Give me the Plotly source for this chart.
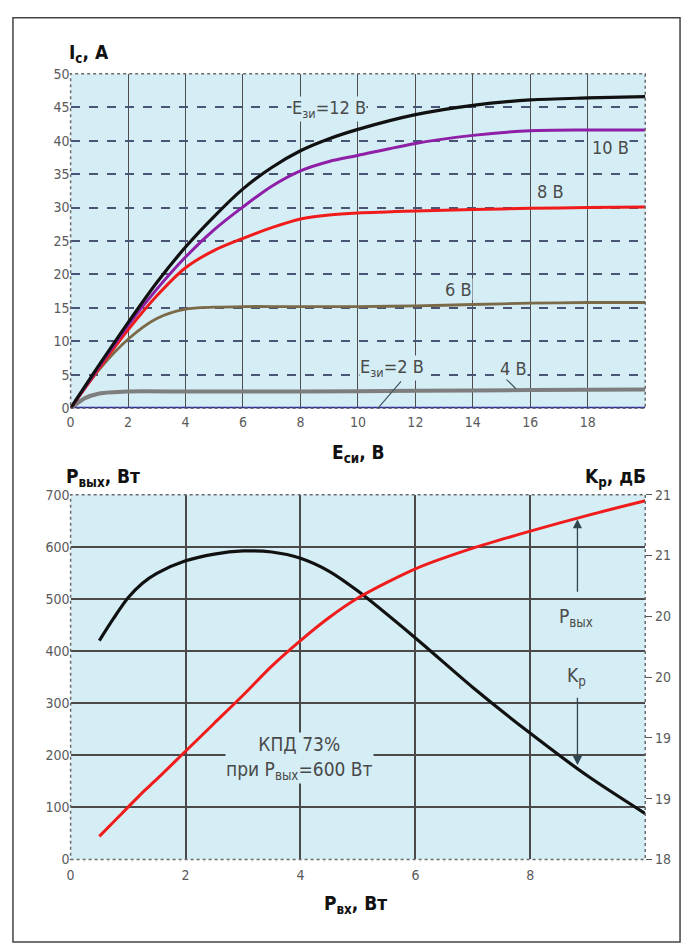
import plotly.graph_objects as go

W, H = 687, 951


def px(x):
    return x / W


def py(y):
    return 1 - y / H


# ---------------- Top chart data: I_c vs E_си for several E_зи ----------------
e_ds = [0, 1, 2, 3, 4, 5, 6, 7, 8, 9, 10, 12, 14, 16, 18, 20]
i_12v = [0, 6.5, 12.8, 18.8, 24.1, 28.7, 32.8, 36.0, 38.5, 40.3, 41.7, 43.9, 45.3, 46.1, 46.4, 46.6]
i_10v = [0, 6.3, 12.4, 17.8, 22.6, 26.7, 30.1, 33.2, 35.5, 36.9, 37.8, 39.6, 40.8, 41.5, 41.6, 41.6]
i_8v = [0, 6.0, 11.7, 16.8, 21.0, 23.6, 25.4, 27.0, 28.3, 28.9, 29.2, 29.5, 29.7, 29.9, 30.0, 30.1]
i_6v = [0, 5.8, 10.3, 13.4, 14.8, 15.1, 15.2, 15.2, 15.2, 15.2, 15.2, 15.3, 15.5, 15.7, 15.8, 15.8]
e_ds_4v = [0, 0.5, 1, 2, 4, 8, 12, 16, 20]
i_4v = [0, 1.5, 2.2, 2.5, 2.5, 2.5, 2.6, 2.7, 2.8]
e_ds_2v = [0, 20]
i_2v = [0, 0]

top_xticks = [0, 2, 4, 6, 8, 10, 12, 14, 16, 18]
top_yticks = [0, 5, 10, 15, 20, 25, 30, 35, 40, 45, 50]

# ---------------- Bottom chart data: P_вых and K_p vs P_вх ----------------
p_in = [0.5, 0.75, 1, 1.25, 1.5, 2, 2.5, 3, 3.5, 4, 4.5, 5, 6, 7, 8, 9, 10]
p_out = [420, 463, 502, 530, 549, 573, 586, 592, 590, 578, 553, 515, 425, 330, 242, 160, 88]
k_p = [18.19, 18.31, 18.43, 18.55, 18.66, 18.89, 19.12, 19.35, 19.59, 19.80, 19.99, 20.15, 20.39, 20.56, 20.70, 20.83, 20.95]

bot_xticks = [0, 2, 4, 6, 8]
bot_yticks = [0, 100, 200, 300, 400, 500, 600, 700]
kp_tickvals = [18, 18.5, 19, 19.5, 20, 20.5, 21]
kp_ticktext = ["18", "19", "19", "20", "20", "21", "21"]

BG = "#d5eef6"
NARROW = "DejaVu Sans Condensed, Liberation Sans Narrow, sans-serif"
TICKFONT = dict(family=NARROW, size=14, color="#5a5a5a")
LABELFONT = dict(family=NARROW, size=18, color="#4a4a4a")
NOTEFONT = dict(family=NARROW, size=19, color="#4a4a4a")
TITLEFONT = dict(family=NARROW, size=19, color="#111111")

fig = go.Figure()

# top traces
fig.add_trace(go.Scatter(x=e_ds_2v, y=i_2v, mode="lines", line=dict(color="#2b2b9e", width=3),
                         xaxis="x", yaxis="y", showlegend=False))
fig.add_trace(go.Scatter(x=e_ds_4v, y=i_4v, mode="lines",
                         line=dict(color="#7e7e7e", width=4, shape="spline", smoothing=0.6),
                         xaxis="x", yaxis="y", showlegend=False))
fig.add_trace(go.Scatter(x=e_ds, y=i_6v, mode="lines",
                         line=dict(color="#7b6a48", width=2.8, shape="spline", smoothing=0.8),
                         xaxis="x", yaxis="y", showlegend=False))
fig.add_trace(go.Scatter(x=e_ds, y=i_8v, mode="lines",
                         line=dict(color="#f01c1c", width=3, shape="spline", smoothing=0.8),
                         xaxis="x", yaxis="y", showlegend=False))
fig.add_trace(go.Scatter(x=e_ds, y=i_10v, mode="lines",
                         line=dict(color="#8e1fa6", width=3, shape="spline", smoothing=0.8),
                         xaxis="x", yaxis="y", showlegend=False))
fig.add_trace(go.Scatter(x=e_ds, y=i_12v, mode="lines",
                         line=dict(color="#111111", width=3.2, shape="spline", smoothing=0.8),
                         xaxis="x", yaxis="y", showlegend=False))

# bottom traces
fig.add_trace(go.Scatter(x=p_in, y=p_out, mode="lines",
                         line=dict(color="#111111", width=3.2, shape="spline", smoothing=0.8),
                         xaxis="x2", yaxis="y2", showlegend=False))
fig.add_trace(go.Scatter(x=p_in, y=k_p, mode="lines",
                         line=dict(color="#f01c1c", width=3, shape="spline", smoothing=0.8),
                         xaxis="x2", yaxis="y3", showlegend=False))

xdom = [px(67), px(645)]
top_dom = [py(407), py(67)]
bot_dom = [py(866), py(495)]

fig.update_layout(
    width=W, height=H, autosize=False,
    margin=dict(l=0, r=0, t=0, b=0),
    paper_bgcolor="white",
    plot_bgcolor=BG,
    showlegend=False,
    xaxis=dict(domain=xdom, anchor="y", range=[0, 20], tickvals=top_xticks, showgrid=True,
               gridcolor="#4d4d4d", gridwidth=1.3, zeroline=False, showline=False,
               ticks="", tickfont=TICKFONT, ticklabelstandoff=4),
    yaxis=dict(domain=top_dom, anchor="x", range=[0, 50], tickvals=top_yticks, showgrid=True,
               gridcolor="#4a5475", gridwidth=1.6, griddash="dash", zeroline=False, showline=False,
               ticks="", tickfont=TICKFONT),
    xaxis2=dict(domain=xdom, anchor="y2", range=[0, 10], tickvals=bot_xticks, showgrid=True,
                gridcolor="#4a4a4a", gridwidth=1.5, zeroline=False, showline=False,
                ticks="", tickfont=TICKFONT, ticklabelstandoff=6),
    yaxis2=dict(domain=bot_dom, anchor="x2", range=[0, 700], tickvals=bot_yticks, showgrid=True,
                gridcolor="#4a4a4a", gridwidth=1.5, zeroline=False, showline=False,
                ticks="", tickfont=TICKFONT),
    yaxis3=dict(overlaying="y2", side="right", anchor="x2", range=[18, 21], tickvals=kp_tickvals,
                ticktext=kp_ticktext, showgrid=False, zeroline=False, showline=False,
                ticks="outside", ticklen=6, tickcolor="#555555", tickfont=TICKFONT),
)

shapes = []
# dotted plot borders
for xr, yr in (("x", "y"), ("x2", "y2")):
    shapes.append(dict(type="rect", xref=f"{xr} domain", yref=f"{yr} domain", x0=0, x1=1, y0=0, y1=1,
                       line=dict(color="#6a6a6a", width=1.5, dash="dot"), layer="above"))
# outer frame
shapes.append(dict(type="rect", xref="paper", yref="paper", x0=px(9), x1=px(680), y0=py(950), y1=py(10),
                   line=dict(color="#444444", width=1.5)))
# leader lines in top chart
shapes.append(dict(type="line", xref="x", yref="y", x0=10.7, y0=0, x1=11.5, y1=4.0,
                   line=dict(color="#3d5560", width=1.2)))
shapes.append(dict(type="line", xref="x", yref="y", x0=15.1, y0=4.6, x1=15.5, y1=2.9,
                   line=dict(color="#3d5560", width=1.2)))
fig.update_layout(shapes=shapes)

ann = []


def lab(text, x, y, xref="x", yref="y", bg=BG, font=LABELFONT, **kw):
    ann.append(dict(text=text, x=x, y=y, xref=xref, yref=yref, showarrow=False,
                    bgcolor=bg, font=font, borderpad=0, **kw))


# curve labels (top)
lab("E<sub>зи</sub>=12 В", 9.0, 44.7)
lab("10 В", 18.8, 39.0)
lab("8 В", 16.7, 32.4)
lab("6 В", 13.5, 17.8)
lab("E<sub>зи</sub>=2 В", 11.2, 6.0)
lab("4 В", 15.4, 6.0)

# annotation text (bottom)
lab("КПД 73%<br>при P<sub>вых</sub>=600 Вт", 3.98, 194, xref="x2", yref="y2", font=NOTEFONT)
lab("P<sub>вых</sub>", 8.8, 464, xref="x2", yref="y2", font=NOTEFONT)
lab("K<sub>р</sub>", 8.8, 351, xref="x2", yref="y2", font=NOTEFONT)

# arrows
ann.append(dict(text="", x=8.82, y=653, ax=8.82, ay=511, xref="x2", yref="y2", axref="x2", ayref="y2",
                showarrow=True, arrowhead=2, arrowsize=1.4, arrowwidth=1.3, arrowcolor="#2f4550"))
ann.append(dict(text="", x=8.82, y=181, ax=8.82, ay=313, xref="x2", yref="y2", axref="x2", ayref="y2",
                showarrow=True, arrowhead=2, arrowsize=1.4, arrowwidth=1.3, arrowcolor="#2f4550"))


# axis titles
def title(text, x, y, xanchor):
    ann.append(dict(text=text, x=px(x), y=py(y), xref="paper", yref="paper", showarrow=False,
                    xanchor=xanchor, yanchor="middle", font=TITLEFONT))


title("<b>I<sub>с</sub>, A</b>", 63, 46, "left")
title("<b>E<sub>си</sub>, В</b>", 357, 453, "center")
title("<b>P<sub>вых</sub>, Вт</b>", 60, 478, "left")
title("<b>K<sub>р</sub>, дБ</b>", 648, 478, "right")
title("<b>P<sub>вх</sub>, Вт</b>", 354, 912, "center")

fig.update_layout(annotations=ann)

fig.write_html("out.html", config={"displayModeBar": False},
               post_script="document.body.style.margin='0';document.body.style.overflow='hidden';")
